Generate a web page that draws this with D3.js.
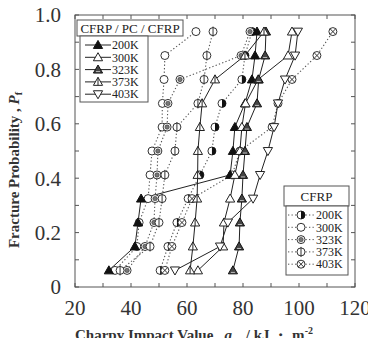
<!DOCTYPE html>
<html><head><meta charset="utf-8">
<script src="https://cdn.jsdelivr.net/npm/d3@7"></script>
<style>body{margin:0;background:#fff}svg{display:block}svg text{font-family:"Liberation Serif","Times New Roman",serif}</style>
</head><body>
<svg id="c" width="368" height="338"></svg>
<script>
// ---- data ----
const probs = [0.061,0.149,0.237,0.325,0.412,0.5,0.588,0.675,0.763,0.851,0.939];
// CFRP/PC/CFRP (solid)
const hyb200 = [32.1,41.4,42.5,43.6,75.4,76.4,77.1,80.7,83.2,84.3,85.0];
const hyb300 = [63.9,72.9,73.2,75.4,77.1,78.9,79.6,80.9,85.4,96.1,97.5];
const hyb323 = [76.4,78.6,78.9,79.6,80.0,80.7,81.4,85.0,85.6,87.9,88.2];
const hyb373 = [61.1,62.1,62.9,63.6,63.8,63.9,64.6,65.4,70.0,80.7,87.5];
const hyb403 = [55.7,71.8,74.6,83.6,86.1,88.9,91.1,92.5,95.0,98.6,99.6];
// CFRP (dotted)
const cf200 = [50.4,53.2,56.4,60.4,64.6,68.9,70.0,72.5,79.6,80.7,83.2];
const cf300 = [34.3,42.1,42.9,46.1,46.8,47.5,51.1,51.2,51.8,52.1,63.2];
const cf323 = [38.6,45.0,48.2,48.6,49.3,49.6,52.9,53.2,57.5,79.3,82.5];
const cf373 = [36.1,46.8,50.0,51.1,52.1,55.7,56.4,63.9,66.1,67.1,69.3];
const cf403 = [52.1,54.6,58.2,61.8,76.1,78.9,90.4,92.5,97.5,106.4,112.1];
const temps = ["200K","300K","323K","373K","403K"];
const xTicks = [20,40,60,80,100,120];
const yTicks = [0,0.2,0.4,0.6,0.8,1.0];

const svg = d3.select("#c");
const x = d3.scaleLinear().domain([20,120]).range([75,355]);
const y = d3.scaleLinear().domain([0,1]).range([287,15]);

// frame & ticks
const g = svg.append("g");
g.append("rect").attr("x",75).attr("y",15).attr("width",280).attr("height",272)
  .attr("fill","none").attr("stroke","#555").attr("stroke-width",1);
const xt = d3.range(20,121,10), yt = d3.range(0,1.001,0.1);
const tk = g.append("g").attr("stroke","#555").attr("stroke-width",1);
xt.forEach(v=>{
  tk.append("line").attr("x1",x(v)).attr("x2",x(v)).attr("y1",287).attr("y2",283);
  tk.append("line").attr("x1",x(v)).attr("x2",x(v)).attr("y1",15).attr("y2",19);
});
yt.forEach(v=>{
  tk.append("line").attr("x1",75).attr("x2",79).attr("y1",y(v)).attr("y2",y(v));
  tk.append("line").attr("x1",355).attr("x2",351).attr("y1",y(v)).attr("y2",y(v));
});
// tick labels
xTicks.forEach(v=>{
  svg.append("text").attr("x",x(v)).attr("y",315).attr("text-anchor","middle")
    .attr("font-size",21).attr("fill","#333").text(v);
});
yTicks.forEach(v=>{
  svg.append("text").attr("x",61).attr("y",y(v)).attr("dy","0.35em").attr("text-anchor","end")
    .attr("font-size",21).attr("fill","#333").text(v===0?"0":v.toFixed(1));
});
// axis titles
const yl = svg.append("text").attr("transform","translate(19,170) rotate(-90)")
  .attr("text-anchor","middle").attr("font-size",15)
  .attr("font-weight","bold").attr("fill","#333");
yl.append("tspan").text("Fracture Probability , ");
yl.append("tspan").attr("font-style","italic").text("P");
yl.append("tspan").attr("font-size",10).attr("dy",3).text("f");
const xl = svg.append("text").attr("x",75).attr("y",340)
  .attr("font-size",15).attr("font-weight","bold").attr("fill","#333");
xl.append("tspan").text("Charpy Impact Value , ");
xl.append("tspan").attr("font-style","italic").text("a");
xl.append("tspan").attr("font-size",10).attr("dy",3).attr("font-style","italic").text("cu");
xl.append("tspan").attr("dy",-3).text(" / kJ \u30FB m");
xl.append("tspan").attr("font-size",10).attr("dy",-6).text("-2");

// markers
function marker(sel, type, cx, cy){
  const m = sel.append("g").attr("transform",`translate(${cx},${cy})`);
  const r = 4;
  if(type.startsWith("tri")){
    const s=4.6;
    const up = `M0,${-s} L${s},${s*0.75} L${-s},${s*0.75} Z`;
    const dn = `M0,${s} L${s},${-s*0.75} L${-s},${-s*0.75} Z`;
    if(type==="tri200") m.append("path").attr("d",up).attr("fill","#111").attr("stroke","#111");
    if(type==="tri300") m.append("path").attr("d",up).attr("fill","#fff").attr("stroke","#222");
    if(type==="tri323"){ m.append("path").attr("d",up).attr("fill","#444").attr("stroke","#111");
      m.append("line").attr("x1",-2).attr("x2",2).attr("y1",2).attr("y2",2).attr("stroke","#bbb").attr("stroke-width",1);}
    if(type==="tri373"){ m.append("path").attr("d",up).attr("fill","#fff").attr("stroke","#222");
      m.append("line").attr("x1",0).attr("x2",0).attr("y1",-s).attr("y2",s*0.75).attr("stroke","#222");}
    if(type==="tri403") m.append("path").attr("d",dn).attr("fill","#fff").attr("stroke","#222");
  } else {
    m.append("circle").attr("r",r).attr("fill","#fff").attr("stroke","#333").attr("stroke-width",1);
    if(type==="c200") m.append("path").attr("d",`M0,${-r} A${r},${r} 0 0 1 0,${r} Z`).attr("fill","#111");
    if(type==="c323") m.append("circle").attr("r",2.2).attr("fill","#777").attr("stroke","#333").attr("stroke-width",0.6);
    if(type==="c373") m.append("line").attr("x1",0).attr("x2",0).attr("y1",-r-1).attr("y2",r+1).attr("stroke","#333");
    if(type==="c403"){ const k=2.8;
      m.append("path").attr("d",`M${-k},${-k}L${k},${k}M${k},${-k}L${-k},${k}`).attr("stroke","#333");}
  }
}

const solid = [["tri200",hyb200],["tri300",hyb300],["tri323",hyb323],["tri373",hyb373],["tri403",hyb403]];
const dotted = [["c200",cf200],["c300",cf300],["c323",cf323],["c373",cf373],["c403",cf403]];
const line = d3.line().x(d=>x(d[0])).y(d=>y(d[1]));
const plot = svg.append("g");
dotted.forEach(([t,vals])=>{
  plot.append("path").attr("d",line(vals.map((v,i)=>[v,probs[i]]))).attr("fill","none")
    .attr("stroke","#555").attr("stroke-width",1.1).attr("stroke-dasharray","1.3,2.2");
});
solid.forEach(([t,vals])=>{
  plot.append("path").attr("d",line(vals.map((v,i)=>[v,probs[i]]))).attr("fill","none")
    .attr("stroke","#222").attr("stroke-width",1);
});
dotted.forEach(([t,vals])=>vals.forEach((v,i)=>marker(plot,t,x(v),y(probs[i]))));
solid.forEach(([t,vals])=>vals.forEach((v,i)=>marker(plot,t,x(v),y(probs[i]))));

// legend 1
const L1 = svg.append("g");
L1.append("rect").attr("x",77).attr("y",20).attr("width",106).attr("height",16)
  .attr("fill","#fff").attr("stroke","#555");
L1.append("text").attr("x",130).attr("y",28).attr("dy","0.35em").attr("text-anchor","middle")
  .attr("font-size",13).attr("fill","#222").text("CFRP / PC / CFRP");
L1.append("rect").attr("x",80).attr("y",36).attr("width",68).attr("height",66)
  .attr("fill","#fff").attr("stroke","#555");
solid.forEach(([t],i)=>{
  const yy = 45 + i*12.3;
  L1.append("line").attr("x1",85).attr("x2",111).attr("y1",yy).attr("y2",yy).attr("stroke","#222");
  marker(L1,t,98,yy);
  L1.append("text").attr("x",112).attr("y",yy).attr("dy","0.35em")
    .attr("font-size",12).attr("fill","#222").text(temps[i]);
});
// legend 2
const L2 = svg.append("g");
L2.append("rect").attr("x",284).attr("y",186).attr("width",65).attr("height",20)
  .attr("fill","#fff").attr("stroke","#555");
L2.append("text").attr("x",316.5).attr("y",196).attr("dy","0.35em").attr("text-anchor","middle")
  .attr("font-size",13).attr("fill","#222").text("CFRP");
L2.append("rect").attr("x",286).attr("y",206).attr("width",62).attr("height",69)
  .attr("fill","#fff").attr("stroke","#555");
dotted.forEach(([t],i)=>{
  const yy = 215 + i*12.3;
  L2.append("line").attr("x1",288).attr("x2",315).attr("y1",yy).attr("y2",yy)
    .attr("stroke","#555").attr("stroke-dasharray","1.3,2.2");
  marker(L2,t,301,yy);
  L2.append("text").attr("x",316).attr("y",yy).attr("dy","0.35em")
    .attr("font-size",12).attr("fill","#222").text(temps[i]);
});
</script>
</body></html>
